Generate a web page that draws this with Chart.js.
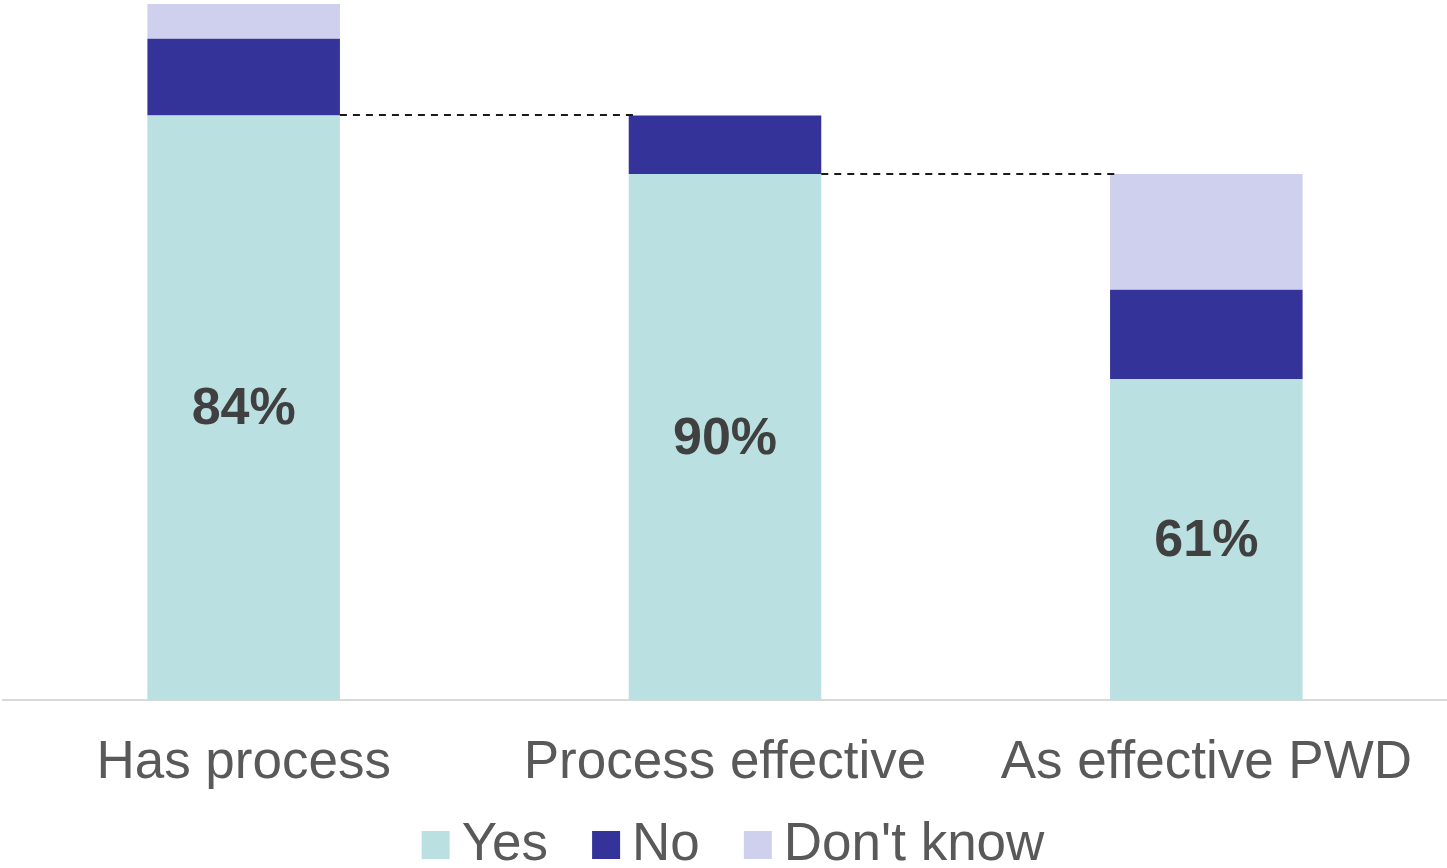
<!DOCTYPE html>
<html>
<head>
<meta charset="utf-8">
<script src="https://cdn.jsdelivr.net/npm/chart.js@4.4.1/dist/chart.umd.min.js"></script>
<style>
  html, body { margin: 0; padding: 0; background: #ffffff; }
  #wrap { width: 1447px; height: 868px; }
</style>
</head>
<body>
<div id="wrap"><canvas id="c" width="1447" height="868"></canvas></div>
<script>
// Funnel stages and the answer split within each stage (percent)
const categories = ['Has process', 'Process effective', 'As effective PWD'];
const seriesNames = ['Yes', 'No', "Don't know"];
const yesPct = [84, 90, 61];
const noPct = [11, 10, 17];
const dontKnowPct = [5, 0, 22];
const seriesColors = ['#BAE0E2', '#343399', '#CFCFEE'];

const FONT = '"Liberation Sans", Arial, Helvetica, sans-serif';

// Each stage is asked only of the "Yes" group of the stage before it,
// so its bar height is that group's share of all respondents.
const stageBase = [];
categories.forEach((_, i) => {
  stageBase.push(i === 0 ? 100 : stageBase[i - 1] * yesPct[i - 1] / 100);
});
const scaleToStage = arr => arr.map((v, i) => v * stageBase[i] / 100);

// Percentage labels centred in the "Yes" segment
const yesLabels = {
  id: 'yesLabels',
  afterDatasetsDraw(chart) {
    const ctx = chart.ctx;
    const meta = chart.getDatasetMeta(0);
    ctx.save();
    ctx.fillStyle = '#404040';
    ctx.font = 'bold 52px ' + FONT;
    ctx.textAlign = 'center';
    ctx.textBaseline = 'middle';
    meta.data.forEach((el, i) => {
      ctx.fillText(yesPct[i] + '%', el.x, (el.y + el.base) / 2 + 2);
    });
    ctx.restore();
  }
};

// Dashed connectors from the top of each "Yes" segment to the next stage
const connectors = {
  id: 'connectors',
  afterDatasetsDraw(chart) {
    const ctx = chart.ctx;
    const meta = chart.getDatasetMeta(0);
    const yScale = chart.scales.y;
    ctx.save();
    ctx.strokeStyle = '#1a1a1a';
    ctx.lineWidth = 2;
    ctx.setLineDash([7, 6]);
    for (let i = 0; i < meta.data.length - 1; i++) {
      const cur = meta.data[i];
      const next = meta.data[i + 1];
      const y = Math.round(yScale.getPixelForValue(stageBase[i + 1]));
      const x0 = cur.x + cur.width / 2;
      const x1 = next.x - next.width / 2 + 8;
      ctx.beginPath();
      ctx.moveTo(x0, y);
      ctx.lineTo(x1, y);
      ctx.stroke();
    }
    ctx.restore();
  }
};

// Legend row along the bottom edge
const bottomLegend = {
  id: 'bottomLegend',
  afterDraw(chart) {
    const ctx = chart.ctx;
    const box = 28, gap = 12, spacing = 44, baseline = 860;
    ctx.save();
    ctx.font = '53px ' + FONT;
    ctx.textBaseline = 'alphabetic';
    ctx.textAlign = 'left';
    const items = chart.data.datasets.map(ds => ({
      text: ds.label, color: ds.backgroundColor, w: ctx.measureText(ds.label).width
    }));
    const total = items.reduce((s, it) => s + box + gap + it.w, 0) + spacing * (items.length - 1);
    const centre = (chart.chartArea.left + chart.chartArea.right) / 2 + 8;
    let x = centre - total / 2;
    items.forEach(it => {
      ctx.fillStyle = it.color;
      ctx.fillRect(x, baseline - box - 1, box, box);
      x += box + gap;
      ctx.fillStyle = '#595959';
      ctx.fillText(it.text, x, baseline);
      x += it.w + spacing;
    });
    ctx.restore();
  }
};

const datasets = [
  { label: seriesNames[0], data: scaleToStage(yesPct), backgroundColor: seriesColors[0] },
  { label: seriesNames[1], data: scaleToStage(noPct), backgroundColor: seriesColors[1] },
  { label: seriesNames[2], data: scaleToStage(dontKnowPct), backgroundColor: seriesColors[2] }
].map(ds => Object.assign(ds, { barPercentage: 0.4, categoryPercentage: 1.0, borderWidth: 0 }));

new Chart(document.getElementById('c'), {
  type: 'bar',
  data: { labels: categories, datasets },
  options: {
    responsive: false,
    devicePixelRatio: 1,
    animation: false,
    layout: { padding: { left: 3, right: 0, top: 4, bottom: 42 } },
    plugins: {
      legend: { display: false },
      tooltip: { enabled: false }
    },
    scales: {
      x: {
        stacked: true,
        grid: { display: false, drawTicks: false },
        border: { display: true, color: '#D9D9D9', width: 2 },
        ticks: {
          color: '#595959',
          font: { size: 53, family: FONT },
          padding: 31,
          maxRotation: 0,
          autoSkip: false
        }
      },
      y: {
        stacked: true,
        display: false,
        min: 0,
        max: 100
      }
    }
  },
  plugins: [connectors, yesLabels, bottomLegend]
});
</script>
</body>
</html>
